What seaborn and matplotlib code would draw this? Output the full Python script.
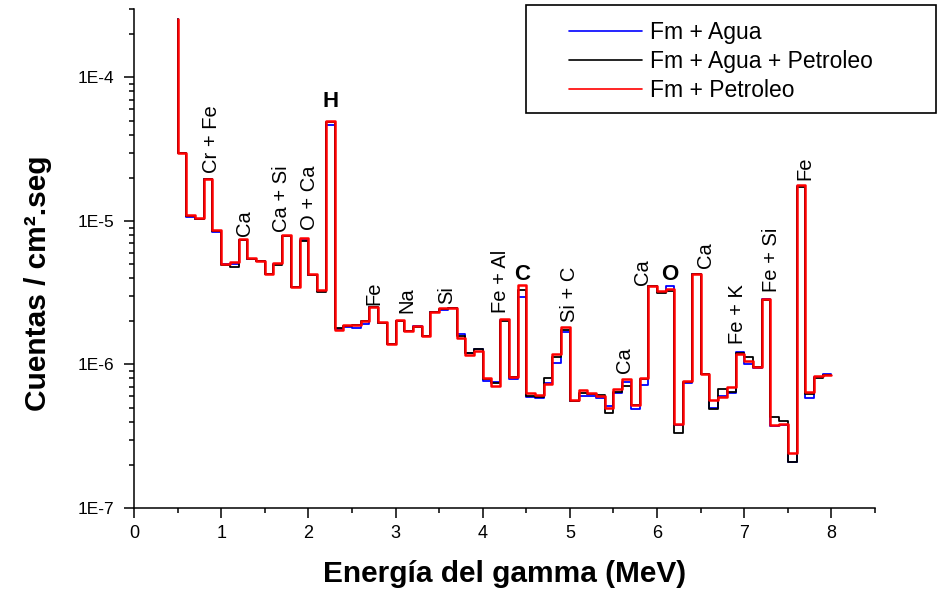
import numpy as np
import pandas as pd
import matplotlib
matplotlib.use("Agg")
import matplotlib.pyplot as plt
import seaborn as sns
from matplotlib.ticker import FixedLocator, LogLocator, NullFormatter, FuncFormatter
from matplotlib.lines import Line2D
from matplotlib.patches import Rectangle

# Upper edge of each 0.1 MeV energy bin (first point only starts the step line)
energy = [0.5, 0.6, 0.7, 0.8, 0.9, 1.0, 1.1, 1.2, 1.3, 1.4, 1.5, 1.6, 1.7, 1.8, 1.9,
          2.0, 2.1, 2.2, 2.3, 2.4, 2.5, 2.6, 2.7, 2.8, 2.9, 3.0, 3.1, 3.2, 3.3, 3.4,
          3.5, 3.6, 3.7, 3.8, 3.9, 4.0, 4.1, 4.2, 4.3, 4.4, 4.5, 4.6, 4.7, 4.8, 4.9,
          5.0, 5.1, 5.2, 5.3, 5.4, 5.5, 5.6, 5.7, 5.8, 5.9, 6.0, 6.1, 6.2, 6.3, 6.4,
          6.5, 6.6, 6.7, 6.8, 6.9, 7.0, 7.1, 7.2, 7.3, 7.4, 7.5, 7.6, 7.7, 7.8, 7.9, 8.0]

# Counts per cm2.s for each formation fluid
fm_agua = [2.57e-4, 3.0e-5, 1.06e-5, 1.04e-5, 1.95e-5, 8.4e-6, 5.0e-6, 5.0e-6, 7.4e-6, 5.4e-6,
           5.3e-6, 4.3e-6, 5.0e-6, 7.8e-6, 3.45e-6, 7.4e-6, 4.2e-6, 3.25e-6, 4.7e-5, 1.78e-6,
           1.82e-6, 1.8e-6, 1.9e-6, 2.5e-6, 1.96e-6, 1.4e-6, 2.02e-6, 1.72e-6, 1.85e-6, 1.58e-6,
           2.33e-6, 2.4e-6, 2.48e-6, 1.62e-6, 1.2e-6, 1.28e-6, 7.7e-7, 7.5e-7, 2.05e-6, 7.9e-7,
           2.96e-6, 5.9e-7, 5.8e-7, 7.4e-7, 1.03e-6, 1.69e-6, 5.6e-7, 6.0e-7, 6.0e-7, 5.8e-7,
           5.1e-7, 6.35e-7, 7.6e-7, 4.9e-7, 7.2e-7, 3.5e-6, 3.2e-6, 3.52e-6, 3.8e-7, 7.4e-7,
           4.25e-6, 8.6e-7, 4.95e-7, 6.0e-7, 6.3e-7, 1.22e-6, 1.01e-6, 9.4e-7, 2.85e-6, 3.7e-7,
           3.8e-7, 2.08e-7, 1.75e-5, 5.8e-7, 8.2e-7, 8.6e-7]

fm_agua_petroleo = [2.57e-4, 3.0e-5, 1.08e-5, 1.04e-5, 1.95e-5, 8.5e-6, 4.9e-6, 4.75e-6, 7.4e-6, 5.4e-6,
                    5.3e-6, 4.3e-6, 4.9e-6, 7.8e-6, 3.45e-6, 7.3e-6, 4.2e-6, 3.2e-6, 4.9e-5, 1.8e-6,
                    1.86e-6, 1.88e-6, 2.0e-6, 2.5e-6, 1.96e-6, 1.4e-6, 2.02e-6, 1.72e-6, 1.82e-6, 1.58e-6,
                    2.33e-6, 2.45e-6, 2.48e-6, 1.58e-6, 1.2e-6, 1.28e-6, 7.9e-7, 7.4e-7, 2.0e-6, 8.2e-7,
                    3.3e-6, 6.0e-7, 5.9e-7, 8.0e-7, 1.12e-6, 1.74e-6, 5.6e-7, 6.35e-7, 6.25e-7, 6.1e-7,
                    4.57e-7, 6.45e-7, 7.1e-7, 5.2e-7, 7.9e-7, 3.52e-6, 3.13e-6, 3.25e-6, 3.35e-7, 7.6e-7,
                    4.3e-6, 8.6e-7, 4.9e-7, 6.8e-7, 6.45e-7, 1.2e-6, 1.13e-6, 9.6e-7, 2.8e-6, 4.3e-7,
                    4.05e-7, 2.1e-7, 1.72e-5, 6.2e-7, 8.0e-7, 8.5e-7]

fm_petroleo = [2.57e-4, 3.0e-5, 1.10e-5, 1.05e-5, 1.95e-5, 8.6e-6, 5.0e-6, 5.2e-6, 7.5e-6, 5.5e-6,
               5.3e-6, 4.3e-6, 5.1e-6, 8.0e-6, 3.47e-6, 7.6e-6, 4.25e-6, 3.3e-6, 4.97e-5, 1.75e-6,
               1.88e-6, 1.88e-6, 2.01e-6, 2.52e-6, 1.98e-6, 1.4e-6, 2.04e-6, 1.72e-6, 1.85e-6, 1.58e-6,
               2.33e-6, 2.48e-6, 2.48e-6, 1.52e-6, 1.16e-6, 1.24e-6, 8.1e-7, 7.1e-7, 2.09e-6, 8.2e-7,
               3.57e-6, 6.35e-7, 6.1e-7, 7.3e-7, 1.19e-6, 1.83e-6, 5.65e-7, 6.6e-7, 6.3e-7, 6.0e-7,
               4.94e-7, 6.7e-7, 7.87e-7, 5.2e-7, 8.0e-7, 3.52e-6, 3.26e-6, 3.38e-6, 3.85e-7, 7.7e-7,
               4.3e-6, 8.6e-7, 5.65e-7, 5.96e-7, 7.0e-7, 1.19e-6, 1.06e-6, 9.55e-7, 2.88e-6, 3.8e-7,
               3.85e-7, 2.43e-7, 1.79e-5, 6.45e-7, 8.3e-7, 8.5e-7]

series_names = ["Fm + Agua", "Fm + Agua + Petroleo", "Fm + Petroleo"]
series_colors = ["#0000ff", "#000000", "#ff0000"]
series_widths = [1.3, 1.3, 1.8]

x_ticks = [0, 1, 2, 3, 4, 5, 6, 7, 8]
y_ticks = [1e-7, 1e-6, 1e-5, 1e-4]

# Peak identifications: text, energy (MeV), height of label foot, bold
peak_labels = [
    ("Cr + Fe", 0.89, 2.15e-5, False),
    ("Ca", 1.27, 7.9e-6, False),
    ("Ca + Si", 1.69, 8.4e-6, False),
    ("O + Ca", 2.01, 8.6e-6, False),
    ("H", 2.26, 6.2e-5, True),
    ("Fe", 2.75, 2.6e-6, False),
    ("Na", 3.13, 2.27e-6, False),
    ("Si", 3.59, 2.66e-6, False),
    ("Fe + Al", 4.20, 2.27e-6, False),
    ("C", 4.45, 3.9e-6, True),
    ("Si + C", 5.00, 1.98e-6, False),
    ("Ca", 5.63, 8.75e-7, False),
    ("Ca", 5.83, 3.57e-6, False),
    ("O", 6.15, 3.9e-6, True),
    ("Ca", 6.56, 4.74e-6, False),
    ("Fe + K", 6.92, 1.40e-6, False),
    ("Fe + Si", 7.31, 3.21e-6, False),
    ("Fe", 7.70, 1.94e-5, False),
]

df = pd.DataFrame({
    "energy": energy * 3,
    "cuentas": fm_agua + fm_agua_petroleo + fm_petroleo,
    "serie": sum([[n] * len(energy) for n in series_names], []),
})

sns.set_style("ticks")
plt.rcParams["font.family"] = ["Liberation Sans", "DejaVu Sans"]
for key in ("text.color", "axes.labelcolor", "xtick.color", "ytick.color", "axes.edgecolor"):
    plt.rcParams[key] = "black"

W, H = 951, 594
fig = plt.figure(figsize=(W / 100, H / 100), dpi=100)
ax = fig.add_axes([134 / W, 1 - 508 / H, (875 - 134) / W, (508 - 9) / H])

sns.lineplot(
    data=df, x="energy", y="cuentas", hue="serie", hue_order=series_names,
    palette=dict(zip(series_names, series_colors)), size="serie",
    sizes=dict(zip(series_names, series_widths)), size_order=series_names,
    estimator=None, drawstyle="steps-pre", legend=False, ax=ax,
)

ax.set_yscale("log")
ax.set_xlim(0, 8.5)
ax.set_ylim(1e-7, 3e-4)

ax.xaxis.set_major_locator(FixedLocator(x_ticks))
ax.xaxis.set_minor_locator(FixedLocator([0.5, 1.5, 2.5, 3.5, 4.5, 5.5, 6.5, 7.5, 8.5]))
ax.yaxis.set_major_locator(FixedLocator(y_ticks))
ax.yaxis.set_minor_locator(LogLocator(base=10, subs=np.arange(2, 10)))
ax.yaxis.set_minor_formatter(NullFormatter())
ax.yaxis.set_major_formatter(FuncFormatter(lambda v, p: "1E-%d" % round(-np.log10(v))))

for side in ("top", "right"):
    ax.spines[side].set_visible(False)
for side in ("left", "bottom"):
    ax.spines[side].set_linewidth(1.1)
    ax.spines[side].set_color("black")

ax.tick_params(axis="both", which="major", direction="out", length=7, width=1.1, color="black",
               labelcolor="black")
ax.tick_params(axis="both", which="minor", direction="out", length=3.6, width=1.1, color="black")
ax.tick_params(axis="y", which="major", labelsize=12.5, pad=7)
ax.tick_params(axis="x", which="major", labelsize=13, pad=5)

ax.set_xlabel("Energía del gamma (MeV)", fontsize=21.5, fontweight="bold")
ax.set_ylabel("Cuentas / cm².seg", fontsize=21.5, fontweight="bold")
ax.xaxis.set_label_coords(0.5, -0.105)
ax.yaxis.set_label_coords((52 - 134) / (875 - 134), 0.45)

for text, xe, ye, bold in peak_labels:
    if bold:
        ax.text(xe, ye, text, ha="center", va="baseline", fontsize=16, fontweight="bold")
    else:
        ax.text(xe, ye, text, ha="center", va="bottom", rotation=90, fontsize=14.5)

handles = [Line2D([], [], color=c, lw=1.2) for c in series_colors]
ax.legend(handles, series_names, loc="upper left", bbox_to_anchor=(569 / W, 1 - 21.5 / H),
          bbox_transform=fig.transFigure, frameon=False, fontsize=16.5, borderpad=0,
          borderaxespad=0, handlelength=3.2, handletextpad=0.35, labelspacing=0.26)
fig.add_artist(Rectangle((526 / W, 1 - 113 / H), (936 - 526) / W, (113 - 5) / H,
                         transform=fig.transFigure, fill=False, lw=1.2, ec="black"))

fig.savefig("out.png", dpi=100)
